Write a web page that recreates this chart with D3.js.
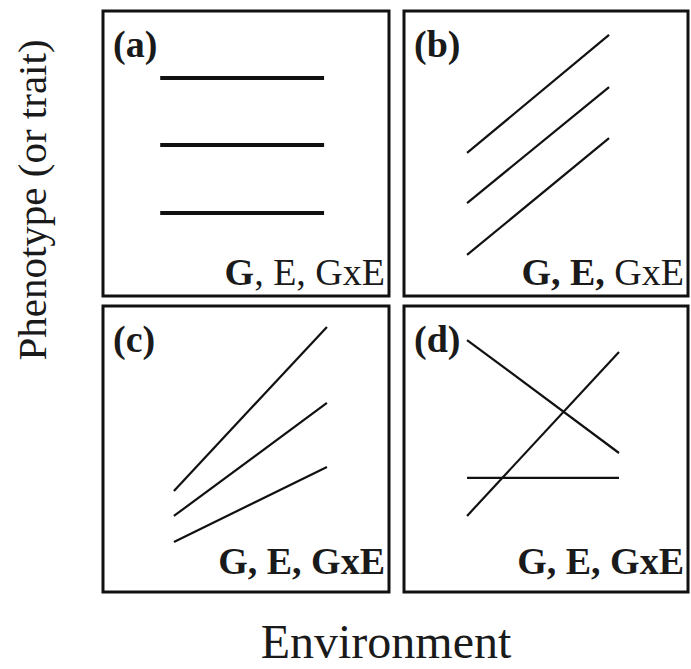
<!DOCTYPE html>
<html>
<head>
<meta charset="utf-8">
<script src="https://cdn.jsdelivr.net/npm/d3@7"></script>
<style>
  body { margin: 0; background: #fff; }
  text { font-family: "Liberation Serif", "Times New Roman", serif; fill: #1a1a1a; }
</style>
</head>
<body>
<div id="chart"></div>
<script>
const WIDTH = 691;
const HEIGHT = 669;

// panel ids, in reading order
const panels = ['a', 'b', 'c', 'd'];
// which part of "G, E, GxE" is bold in each panel
const effectLabels = ['G', 'E', 'GxE'];
const boldEffects = [
  [true, false, false],
  [true, true, false],
  [true, true, true],
  [true, true, true],
];

// environment levels (x) where each panel's reaction norms start and end
const envLevels = [
  [2.0, 7.73],
  [2.22, 7.22],
  [2.48, 7.83],
  [2.22, 7.57],
];

// phenotype values (y) for each genotype at the two environments
const phenotypeA = [[7.65, 7.65], [5.3, 5.3], [2.91, 2.91]];
const phenotypeB = [[5.02, 9.16], [3.26, 7.33], [1.44, 5.54]];
const phenotypeC = [[3.53, 9.27], [2.66, 6.61], [1.75, 4.37]];
const phenotypeD = [[8.81, 4.86], [2.66, 8.39], [3.99, 3.99]];
const phenotypes = [phenotypeA, phenotypeB, phenotypeC, phenotypeD];
const lineWidths = [4, 2.2, 2.2, 2.2];

const svg = d3.select('#chart')
  .append('svg')
  .attr('width', WIDTH)
  .attr('height', HEIGHT);

// panel grid: columns and rows of the 2x2 layout
const colX = [[103, 389], [404, 688]];
const rowY = [[11, 296], [306, 592]];

panels.forEach((id, i) => {
  const [x0, x1] = colX[i % 2];
  const [y0, y1] = rowY[Math.floor(i / 2)];

  const x = d3.scaleLinear().domain([0, 10]).range([x0, x1]);
  const y = d3.scaleLinear().domain([0, 10]).range([y1, y0]);

  const g = svg.append('g').attr('class', 'panel-' + id);

  g.append('rect')
    .attr('x', x0)
    .attr('y', y0)
    .attr('width', x1 - x0)
    .attr('height', y1 - y0)
    .attr('fill', 'none')
    .attr('stroke', '#111')
    .attr('stroke-width', 3);

  const line = d3.line()
    .x(d => x(d[0]))
    .y(d => y(d[1]));

  g.selectAll('path.norm')
    .data(phenotypes[i])
    .join('path')
    .attr('class', 'norm')
    .attr('d', d => line(envLevels[i].map((e, k) => [e, d[k]])))
    .attr('fill', 'none')
    .attr('stroke', '#111')
    .attr('stroke-width', lineWidths[i]);

  g.append('text')
    .attr('x', x0 + 10)
    .attr('y', y0 + 46)
    .attr('font-size', 38)
    .attr('font-weight', 'bold')
    .text('(' + id + ')');

  const label = g.append('text')
    .attr('x', x1 - 4)
    .attr('y', i < 2 ? y1 - 11 : y1 - 18)
    .attr('font-size', 38)
    .attr('text-anchor', 'end');

  effectLabels.forEach((lab, k) => {
    label.append('tspan')
      .attr('font-weight', boldEffects[i][k] ? 'bold' : 'normal')
      .text(lab);
    if (k < effectLabels.length - 1) {
      const sepBold = boldEffects[i][k] && boldEffects[i][k + 1];
      label.append('tspan')
        .attr('font-weight', sepBold || (i === 1 && k === 1) ? 'bold' : 'normal')
        .text(',\u00a0');
    }
  });
});

// axis titles
svg.append('text')
  .attr('transform', 'translate(46,200) rotate(-90)')
  .attr('text-anchor', 'middle')
  .attr('font-size', 41)
  .text('Phenotype (or trait)');

svg.append('text')
  .attr('x', 386)
  .attr('y', 658)
  .attr('text-anchor', 'middle')
  .attr('font-size', 48)
  .text('Environment');
</script>
</body>
</html>
